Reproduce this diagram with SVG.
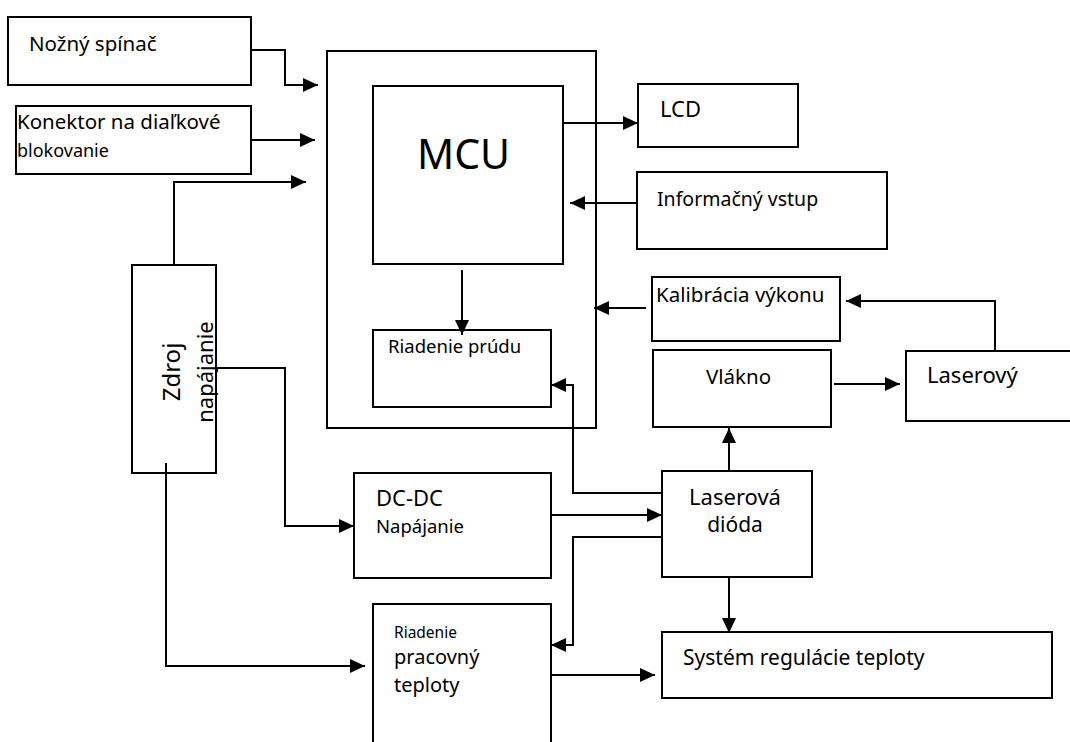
<svg xmlns="http://www.w3.org/2000/svg" width="1070" height="742" viewBox="0 0 1070 742">
<style>
.box{fill:#fff;stroke:#000;stroke-width:2}
.c{fill:none;stroke:#000;stroke-width:2}
text{font-family:"Noto Sans","Open Sans","DejaVu Sans",sans-serif;fill:#000}
</style>
<defs>
<marker id="ah" markerUnits="userSpaceOnUse" markerWidth="16" markerHeight="16" refX="15" refY="7" orient="auto">
<path d="M0,0 L15,7 L0,14 z" fill="#000"/>
</marker>
</defs>
<rect width="1070" height="742" fill="#fff"/>
<g id="outer"><rect class="box" x="327" y="51" width="269" height="377"/></g>
<g id="mcu"><rect class="box" x="373" y="86" width="190" height="178"/><text x="417" y="169" font-size="41">MCU</text></g>
<g id="riadenie-prudu"><rect class="box" x="373" y="330" width="178" height="77"/><text x="388" y="353" font-size="18.5">Riadenie prúdu</text></g>
<g id="nozny"><rect class="box" x="8" y="17" width="243" height="68"/><text x="29" y="51" font-size="20.5">Nožný spínač</text></g>
<g id="konektor"><rect class="box" x="16" y="106" width="235" height="68"/><text x="17" y="129" font-size="20.5">Konektor na diaľkové</text><text x="17" y="157" font-size="18">blokovanie</text></g>
<g id="lcd"><rect class="box" x="638" y="84" width="160" height="63"/><text x="660" y="117" font-size="22">LCD</text></g>
<g id="info"><rect class="box" x="637" y="172" width="250" height="77"/><text x="657" y="206" font-size="19.5">Informačný vstup</text></g>
<g id="kalibracia"><rect class="box" x="652" y="277" width="188" height="64"/><text x="656" y="302" font-size="20.5">Kalibrácia výkonu</text></g>
<g id="vlakno"><rect class="box" x="653" y="350" width="178" height="77"/><text x="706" y="384" font-size="20.5">Vlákno</text></g>
<g id="laserovy"><rect class="box" x="906" y="351" width="170" height="70"/><text x="927" y="383" font-size="22">Laserový</text></g>
<g id="zdroj"><rect class="box" x="132" y="265" width="84" height="208"/><text transform="translate(180,372) rotate(-90)" text-anchor="middle" font-size="24">Zdroj</text><text transform="translate(213,372) rotate(-90)" text-anchor="middle" font-size="22">napájanie</text></g>
<g id="dcdc"><rect class="box" x="354" y="473" width="197" height="105"/><text x="376" y="506" font-size="22">DC-DC</text><text x="376" y="533" font-size="18.5">Napájanie</text></g>
<g id="laserova"><rect class="box" x="662" y="471" width="150" height="106"/><text x="735" y="505" font-size="22" text-anchor="middle">Laserová</text><text x="735" y="532" font-size="21" text-anchor="middle">dióda</text></g>
<g id="system"><rect class="box" x="662" y="632" width="390" height="66"/><text x="683" y="665" font-size="21">Systém regulácie teploty</text></g>
<g id="riadenie-teploty"><rect class="box" x="373" y="604" width="178" height="150"/><text x="394" y="638" font-size="15.5">Riadenie</text><text x="394" y="664" font-size="20">pracovný</text><text x="394" y="692" font-size="20">teploty</text></g>
<g id="connectors">
<path class="c" marker-end="url(#ah)" d="M251,50 H285 V85 H318"/>
<path class="c" marker-end="url(#ah)" d="M251,140 H315"/>
<path class="c" marker-end="url(#ah)" d="M174,265 V182 H306"/>
<path class="c" marker-end="url(#ah)" d="M563,123 H638"/>
<path class="c" marker-end="url(#ah)" d="M637,203 H570"/>
<path class="c" marker-end="url(#ah)" d="M462,270 V335"/>
<path class="c" marker-end="url(#ah)" d="M646,308 H594"/>
<path class="c" marker-end="url(#ah)" d="M995,351 V301 H846"/>
<path class="c" marker-end="url(#ah)" d="M834,384 H900"/>
<path class="c" marker-end="url(#ah)" d="M729,471 V428"/>
<path class="c" marker-end="url(#ah)" d="M662,493 H573 V385 H551"/>
<path class="c" marker-end="url(#ah)" d="M551,515 H662"/>
<path class="c" marker-end="url(#ah)" d="M662,537 H573 V645 H551"/>
<path class="c" marker-end="url(#ah)" d="M729,577 V633"/>
<path class="c" marker-end="url(#ah)" d="M551,675 H655"/>
<path class="c" marker-end="url(#ah)" d="M216,368 H285 V526 H354"/>
<path class="c" marker-end="url(#ah)" d="M166,463 V666 H365"/>
</g>
</svg>
